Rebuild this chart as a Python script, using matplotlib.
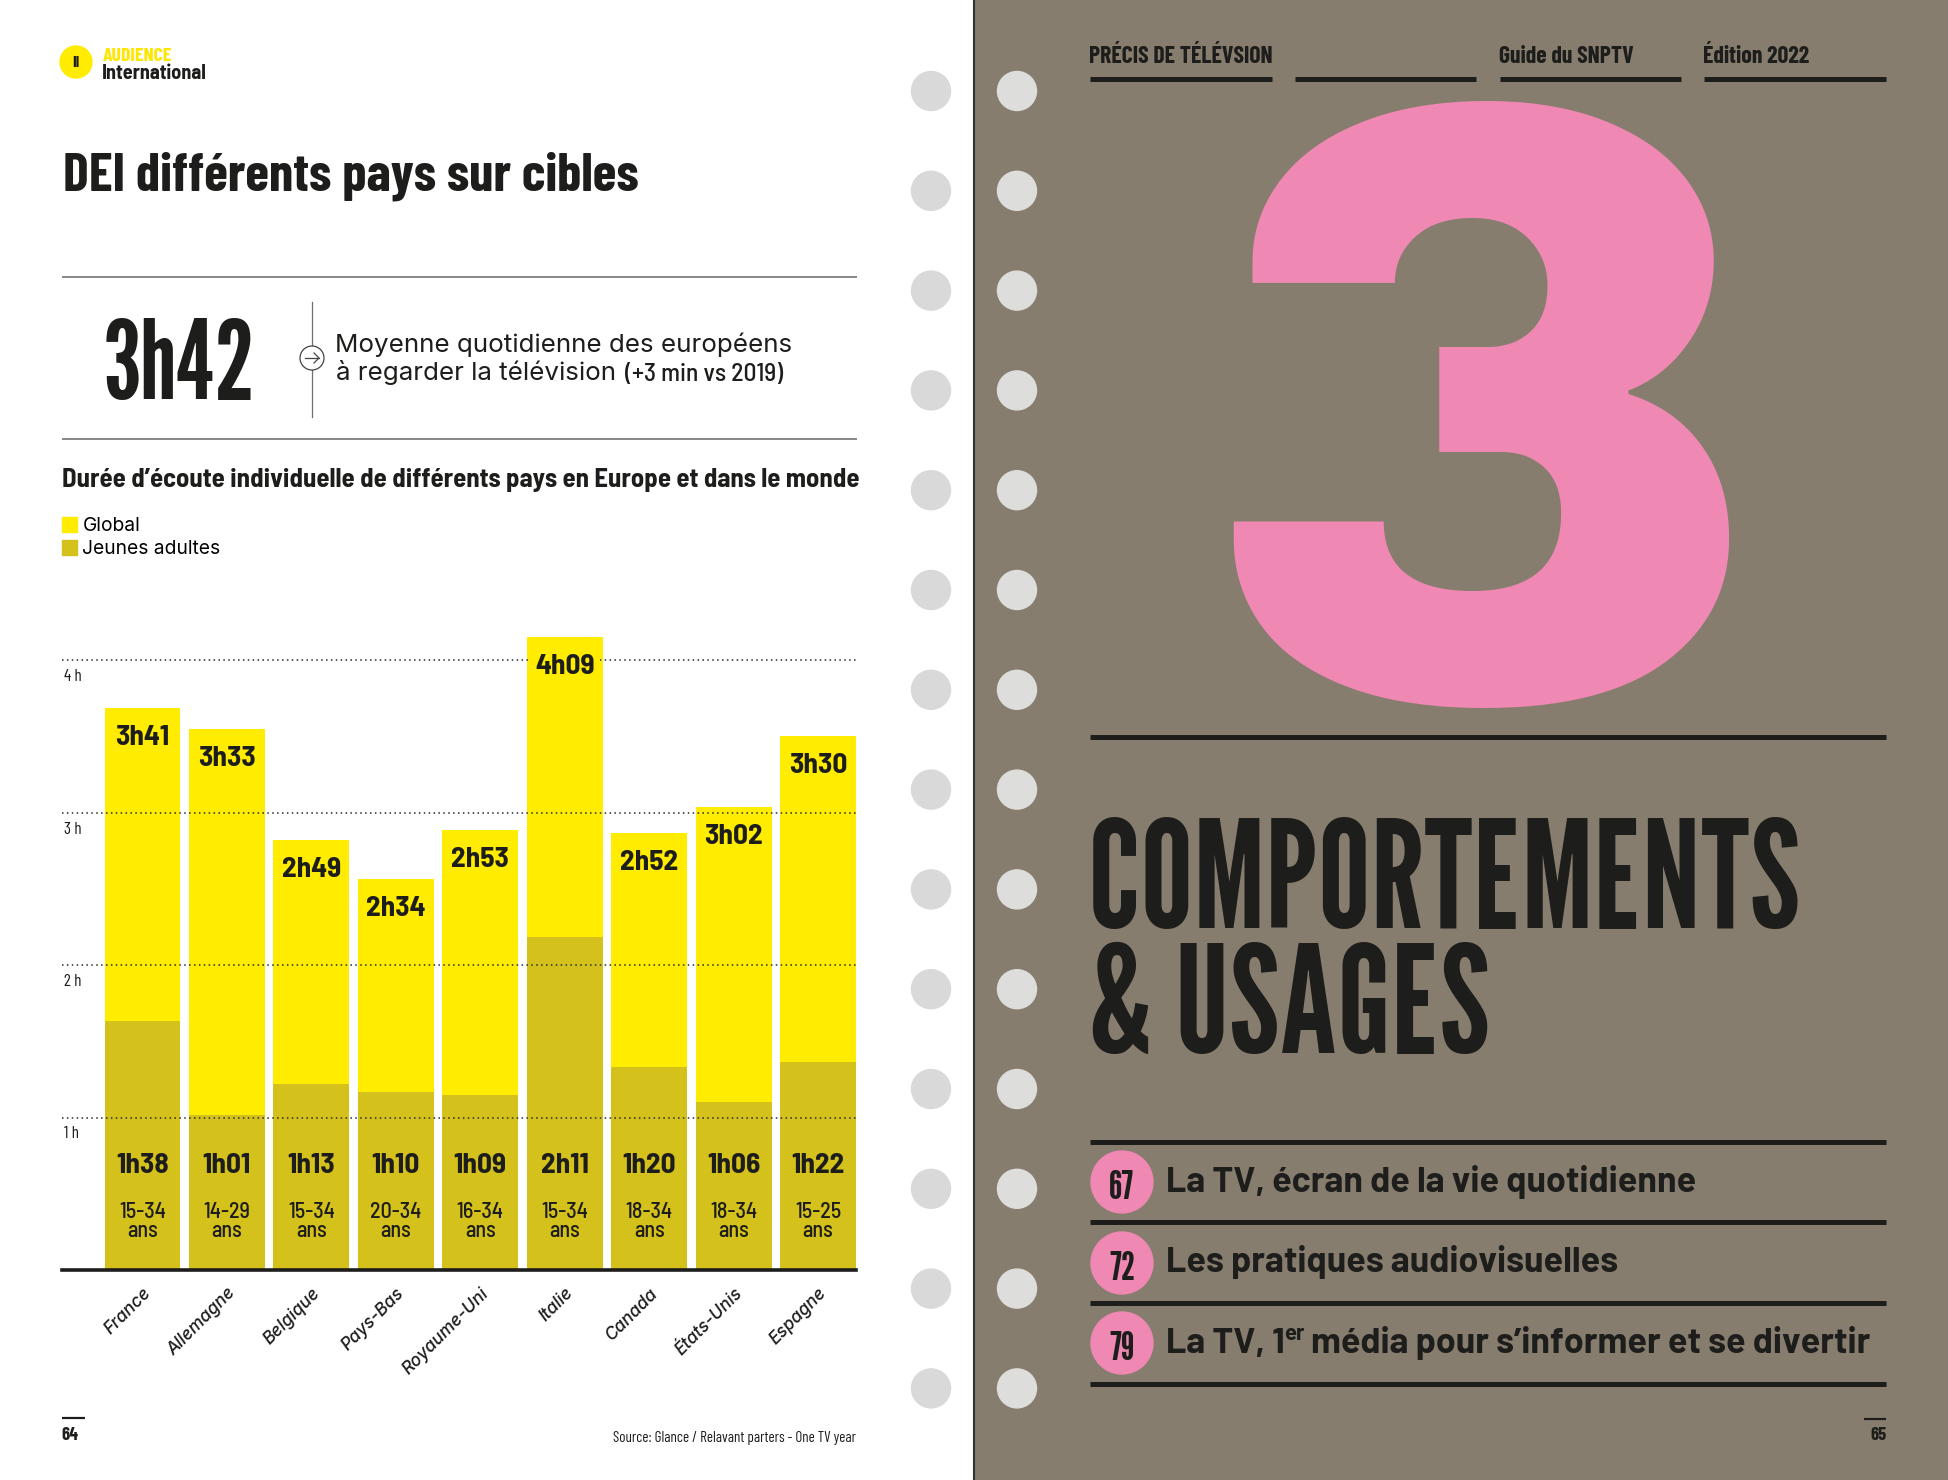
import matplotlib
matplotlib.use("Agg")
import numpy as np
import matplotlib.pyplot as plt
from matplotlib.font_manager import FontProperties
from matplotlib.textpath import TextPath
from matplotlib.patches import Circle, Rectangle

# double page: 1948 x 1480 px
W, H = 1948, 1480
DPI = 100

# --- data (minutes per day) ---
countries = ["France", "Allemagne", "Belgique", "Pays-Bas", "Royaume-Uni",
             "Italie", "Canada", "États-Unis", "Espagne"]
global_min = [221, 213, 169, 154, 173, 249, 172, 182, 210]
young_min = [98, 61, 73, 70, 69, 131, 80, 66, 82]
ages = ["15-34", "14-29", "15-34", "20-34", "16-34", "15-34", "18-34", "18-34", "15-25"]
hour_ticks = [1, 2, 3, 4]
legend_labels = ["Global", "Jeunes adultes"]
toc_pages = ["67", "72", "79"]
toc_titles = ["La TV, écran de la vie quotidienne", "Les pratiques audiovisuelles"]

YELLOW = "#FFEC00"
OLIVE = "#D4C11B"
INK = "#1D1D1B"
BROWN = "#877D6E"
PINK = "#EF88B3"
RULE = "#6E6E6E"

def hm(m):
    return "%dh%02d" % (m // 60, m % 60)

def font(fams, weight="normal", style="normal"):
    if isinstance(fams, str):
        fams = [fams]
    return FontProperties(family=fams + ["DejaVu Sans"], weight=weight, style=style)

F_CB = font("Barlow Condensed", "bold")
F_CR = font("Barlow Condensed", "normal")
F_SB = font("Barlow Semi Condensed", "bold")
F_SM = font("Barlow Semi Condensed", "medium")
F_WB = font(["Barlow", "Barlow Semi Condensed"], "bold")
F_GOTH = font("League Gothic")
F_BLACK = font("Archivo Black")
F_BODY = font("Inter")
F_ITAL = font("Inter", "medium", "italic")

K = DPI / 72 / 72  # px per path unit per pt (TextPath size=72)

def ext(s, fp):
    return TextPath((0, 0), s, size=72, prop=fp).get_extents()

def cap_size(fp, cap, ref="H"):
    return cap / (ext(ref, fp).y1 * K)

fig = plt.figure(figsize=(W / DPI, H / DPI), dpi=DPI)
page = fig.add_axes([0, 0, 1, 1])
page.set_xlim(0, W)
page.set_ylim(H, 0)
page.axis("off")

def put(s, fp, x, top=None, base=None, cap=None, width=None, size=None, maxw=None,
        ha="left", ref="H", color=INK, z=5):
    e = ext(s, fp)
    r = ext(ref, fp) if ref else e
    if size is None:
        if cap is not None:
            size = cap / ((r.y1 - (r.y0 if not ref else 0)) * K)
        else:
            size = width / (e.width * K)
        if maxw is not None and e.width * K * size > maxw:
            size = maxw / (e.width * K)
    f = size * K
    if ha == "left":
        xx = x - e.x0 * f
    elif ha == "right":
        xx = x - e.x1 * f
    else:
        xx = x - (e.x0 + e.x1) / 2 * f
    yb = base if base is not None else top + r.y1 * f
    p = fp.copy()
    p.set_size(size)
    page.text(xx, yb, s, fontproperties=p, ha="left", va="baseline", color=color, zorder=z)
    return size, xx + e.x1 * f

def hline(x0, x1, y, px, color=INK):
    page.plot([x0, x1], [y, y], color=color, lw=px * 0.72, solid_capstyle="butt", zorder=3)

# --- pages ---
page.add_patch(Rectangle((975, 0), W - 975, H, color=BROWN, zorder=0))
page.plot([974, 974], [0, H], color="#333333", lw=1.5, zorder=1)
for k in range(14):
    yy = 91 + 99.8 * k
    page.add_patch(Circle((931, yy), 19.5, color="#D9D9D9", zorder=1))
    page.add_patch(Circle((1017, yy), 19.5, color="#DDDDDB", zorder=1))

# --- left page header ---
page.add_patch(Circle((76, 62), 16, color=YELLOW, zorder=2))
put("II", F_CB, 76, top=56, cap=11, ha="center")
put("AUDIENCE", F_CB, 103, top=47, width=69, color="#FFE600")
put("International", F_SB, 103, top=65, width=103)
put("DEI différents pays sur cibles", F_CB, 65, top=153, cap=38, maxw=600, ref="D")

hline(62, 857, 277, 1.6, RULE)
hline(62, 857, 439, 1.6, RULE)
put("3h42", F_GOTH, 106, top=317, cap=83, ref=None)
page.plot([312, 312], [302, 417], color=RULE, lw=0.9, zorder=2)
page.add_patch(Circle((312, 358), 12, fc="white", ec="#444444", lw=0.9, zorder=3))
page.plot([305, 319], [358, 358], color="#444444", lw=0.9, zorder=4)
page.plot([314, 319, 314], [353, 358, 363], color="#444444", lw=0.9, zorder=4)
sz, _ = put("Moyenne quotidienne des européens", F_BODY, 337, top=333, width=453, ref="M")
_, xend = put("à regarder la télévision", F_BODY, 337, top=361, size=sz, ref="M")
put("(+3 min vs 2019)", F_SM, max(625, xend + 9), base=381, width=158)

put("Durée d’écoute individuelle de différents pays en Europe et dans le monde",
    F_SB, 63, top=468, width=794, ref="D")

# --- chart ---
PX_H = 152.5  # px per hour
x = np.arange(len(countries))
pitch = 84.44
ax = fig.add_axes([62 / W, (H - 1270) / H, 794 / W, 650 / H])
ax.set_facecolor("none")
ax.set_xlim((62 - 142.5) / pitch, (856 - 142.5) / pitch)
ax.set_ylim(0, 650 / PX_H)
gh = np.array(global_min) / 60
yh = np.array(young_min) / 60
ax.bar(x, gh, width=0.9, color=YELLOW, zorder=1)
ax.bar(x, yh, width=0.9, color=OLIVE, zorder=1.5)
ax.set_yticks(hour_ticks)
ax.yaxis.grid(True, color="#2a2a2a", lw=1.1, linestyle=(0, (1, 2.2)))
ax.set_axisbelow(False)
ax.tick_params(axis="y", length=0, labelleft=False)
for s in ["top", "left", "right"]:
    ax.spines[s].set_visible(False)
ax.spines["bottom"].set_linewidth(2.6)
ax.spines["bottom"].set_color(INK)

f_lab = F_SB.copy(); f_lab.set_size(cap_size(F_SB, 20.5))
f_age = F_SM.copy(); f_age.set_size(cap_size(F_SM, 15.5))
f_tick = F_CR.copy(); f_tick.set_size(cap_size(F_CR, 12))
for xi, g, yv, gm, ym, a in zip(x, gh, yh, global_min, young_min, ages):
    ax.annotate(hm(gm), (xi, g), xytext=(0, -37 * 0.72), textcoords="offset points",
                ha="center", va="baseline", fontproperties=f_lab, color=INK, zorder=5,
                bbox=dict(boxstyle="square,pad=0.2", fc=YELLOW, ec="none"))
    ax.text(xi, 97 / PX_H, hm(ym), ha="center", va="baseline", fontproperties=f_lab, color=INK, zorder=5)
    ax.text(xi, 52 / PX_H, a, ha="center", va="baseline", fontproperties=f_age, color=INK, zorder=5)
    ax.text(xi, 33 / PX_H, "ans", ha="center", va="baseline", fontproperties=f_age, color=INK, zorder=5)
for v in hour_ticks:
    ax.text(2 / 794, v - 21 / PX_H, "%d h" % v, transform=ax.get_yaxis_transform(),
            ha="left", va="baseline", fontproperties=f_tick, color=INK)

f_x = F_ITAL.copy(); f_x.set_size(12.5)
ax.set_xticks(x)
ax.set_xticklabels(countries, rotation=45, ha="right", va="top", rotation_mode="anchor",
                   fontproperties=f_x, color=INK)
ax.tick_params(axis="x", length=0, pad=10.5)

f_leg = F_BODY.copy(); f_leg.set_size(cap_size(F_BODY, 14))
hnd = [Rectangle((0, 0), 1, 1, color=YELLOW), Rectangle((0, 0), 1, 1, color=OLIVE)]
fig.legend(hnd, legend_labels, loc="upper left", bbox_to_anchor=(62 / W, 1 - 517 / H),
           frameon=False, prop=f_leg, handlelength=0.78, handleheight=0.78,
           handletextpad=0.28, labelspacing=0.26, borderpad=0, borderaxespad=0)

# --- left footer ---
hline(62, 85, 1418, 2.2)
put("64", F_CB, 62, top=1427, cap=13, ref="0")
put("Source: Glance / Relavant parters - One TV year", F_CR, 856, base=1442, width=242, ha="right")

# --- right page ---
hsz, _ = put("PRÉCIS DE TÉLÉVSION", F_CB, 1090, top=46, width=182, ref="P")
put("Guide du SNPTV", F_CB, 1500, top=46, size=hsz, ref="P")
put("Édition 2022", F_CB, 1704, top=46, size=hsz, ref="P")
for x0, x1 in [(1090, 1272), (1295, 1476), (1500, 1681), (1704, 1886)]:
    hline(x0, x1, 78.5, 5)

put("3", F_BLACK, 1482, top=101, cap=607, ref=None, ha="center", color=PINK, z=2)
hline(1090, 1886, 737, 5)

csz, _ = put("COMPORTEMENTS", F_GOTH, 1093, top=818, cap=112, maxw=705, ref="C")
put("& USAGES", F_GOTH, 1093, top=944, size=csz, ref="U")

for y in [1142, 1222, 1303, 1384]:
    hline(1090, 1886, y, 5)
for cy, num in zip([1182, 1263, 1343], toc_pages):
    page.add_patch(Circle((1122, cy), 31, color=PINK, zorder=3))
    put(num, F_GOTH, 1122, top=cy - 12, cap=29, ha="center", ref="0")
isz, _ = put(toc_titles[0], F_WB, 1168, top=1167, cap=25, ref="L")
put(toc_titles[1], F_WB, 1168, top=1247, size=isz, ref="L")
_, xe = put("La TV, 1", F_WB, 1168, top=1328, size=isz, ref="L")
_, xe = put("er", F_WB, xe + 2, top=1328, size=isz * 0.62, ref="e")
put("média pour s’informer et se divertir", F_WB, xe + 9, top=1328, size=isz, ref="d",
    maxw=1884 - xe - 9)

hline(1864, 1886, 1419, 2.2)
put("65", F_CB, 1886, top=1427, cap=13, ref="0", ha="right")

fig.savefig("out.png", dpi=DPI)
